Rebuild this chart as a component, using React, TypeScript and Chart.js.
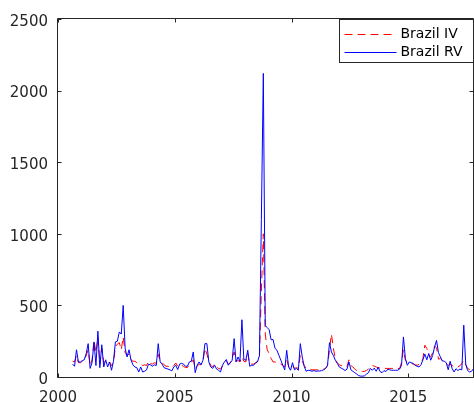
import React, { useEffect, useRef } from 'react';
import { Chart, registerables } from 'chart.js';

Chart.register(...registerables);

// Monthly observations, first month = Aug 2000
const START_YEAR = 2000;
const START_MONTH = 8;

const brazilIV = [
  110, 105, 150, 100, 100,
  110, 115, 150, 190, 80, 120, 256, 170, 280, 90, 200, 100,
  110, 90, 105, 80, 100, 210, 230, 240, 190, 280, 170, 150,
  160, 120, 110, 110, 100, 95, 90, 80, 85, 80, 110, 95,
  90, 100, 95, 160, 110, 100, 85, 75, 75, 70, 65, 80,
  98, 75, 85, 80, 75, 66, 66, 90, 100, 120, 60, 75,
  90, 85, 110, 200, 160, 110, 80, 70, 90, 70, 60, 55,
  75, 95, 110, 90, 100, 130, 175, 110, 115, 105, 140, 110,
  105, 165, 90, 90, 90, 100, 110, 130, 600, 1000, 300, 190,
  164, 130, 105, 105, 100, 95, 90, 80, 70, 120, 75, 60,
  80, 60, 65, 60, 150, 110, 80, 60, 60, 55, 50, 50,
  50, 50, 50, 50, 55, 60, 80, 190, 300, 200, 130, 100,
  85, 80, 75, 70, 75, 120, 80, 70, 55, 45, 40, 38,
  38, 40, 45, 55, 70, 82, 75, 70, 65, 62, 60, 62,
  60, 60, 60, 60, 60, 60, 60, 58, 100, 190, 117, 105,
  105, 95, 90, 85, 82, 88, 94, 128, 222, 200, 152, 140,
  170, 215, 205, 125, 128, 115, 100, 90, 82, 90, 80, 75,
  65, 70, 78, 95, 117, 85, 60, 52, 55, 80,
];

const brazilRV = [
  90, 75, 190, 105, 105,
  115, 120, 165, 233, 60, 100, 245, 80, 320, 65, 225, 70,
  120, 70, 105, 47, 110, 245, 250, 315, 300, 500, 200, 140,
  190, 120, 85, 70, 65, 35, 70, 35, 40, 50, 90, 85,
  75, 85, 80, 233, 105, 90, 65, 60, 55, 50, 43, 70,
  82, 52, 90, 95, 90, 75, 75, 105, 110, 175, 30, 82,
  105, 85, 117, 233, 233, 105, 70, 60, 82, 55, 47, 35,
  82, 105, 122, 82, 98, 117, 268, 105, 140, 110, 400, 122,
  117, 187, 75, 82, 82, 98, 105, 150, 1100, 2120, 360, 345,
  330, 260, 262, 200, 187, 152, 117, 82, 50, 187, 70, 47,
  100, 50, 60, 47, 233, 140, 75, 40, 47, 45, 40, 45,
  40, 42, 42, 45, 50, 60, 82, 240, 175, 150, 117, 95,
  70, 62, 55, 45, 55, 105, 50, 40, 30, 20, 10, 6,
  6, 8, 20, 30, 60, 47, 62, 40, 68, 38, 30, 45,
  38, 55, 50, 47, 47, 47, 47, 55, 80, 280, 128, 82,
  105, 100, 95, 82, 75, 70, 85, 120, 160, 120, 164, 117,
  150, 210, 255, 170, 140, 112, 110, 100, 50, 110, 60, 35,
  58, 45, 55, 50, 362, 90, 45, 35, 40, 58,
];

const yTicks = [0, 500, 1000, 1500, 2000, 2500];
const xTicks = [2000, 2005, 2010, 2015];
const X_MIN = 2000;
const X_MAX = 2017.77;
const Y_MIN = 0;
const Y_MAX = 2500;

const seriesNames = ['Brazil IV', 'Brazil RV'];

const monthTime = (i: number) => START_YEAR + (START_MONTH - 1 + i + 0.5) / 12;

const AXIS_COLOR = '#262626';
const FONT = 'DejaVu Sans';

const boxPlugin = {
  id: 'matlabBox',
  afterDatasetsDraw(chart: any) {
    const { ctx, chartArea: a, scales } = chart;
    const xs = scales.x;
    const ys = scales.y;
    ctx.save();
    ctx.strokeStyle = AXIS_COLOR;
    ctx.lineWidth = 1;
    const L = Math.round(a.left) - 0.5;
    const R = Math.round(a.right) + 0.5;
    const T = Math.round(a.top) - 0.5;
    const B = Math.round(a.bottom) + 0.5;
    ctx.beginPath();
    ctx.rect(L, T, R - L, B - T);
    ctx.stroke();
    const tl = 4;
    ctx.beginPath();
    for (const v of xTicks) {
      const px = Math.round(xs.getPixelForValue(v)) + 0.5;
      ctx.moveTo(px, B);
      ctx.lineTo(px, B - tl);
      ctx.moveTo(px, T);
      ctx.lineTo(px, T + tl);
    }
    for (const v of yTicks) {
      const py = Math.round(ys.getPixelForValue(v)) + 0.5;
      ctx.moveTo(L, py);
      ctx.lineTo(L + tl, py);
      ctx.moveTo(R, py);
      ctx.lineTo(R - tl, py);
    }
    ctx.stroke();

    // legend
    const bw = 134;
    const bh = 43;
    const bx = R - bw;
    const by = T + 1;
    ctx.fillStyle = '#ffffff';
    ctx.fillRect(bx, by, bw, bh);
    ctx.strokeRect(bx, by, bw, bh);
    const rows = [
      { name: seriesNames[0], color: '#ff0000', dash: [8, 5], y: by + 14 },
      { name: seriesNames[1], color: '#0000ff', dash: [], y: by + 32 },
    ];
    ctx.font = `14px "${FONT}"`;
    ctx.textBaseline = 'middle';
    ctx.textAlign = 'left';
    for (const r of rows) {
      ctx.beginPath();
      ctx.setLineDash(r.dash);
      ctx.strokeStyle = r.color;
      ctx.moveTo(bx + 5, Math.round(r.y) + 0.5);
      ctx.lineTo(bx + 57, Math.round(r.y) + 0.5);
      ctx.stroke();
      ctx.setLineDash([]);
      ctx.fillStyle = '#000000';
      ctx.fillText(r.name, bx + 61, r.y + 1);
    }
    ctx.restore();
  },
};

export default function App() {
  const canvasRef = useRef<HTMLCanvasElement | null>(null);

  useEffect(() => {
    const canvas = canvasRef.current;
    if (!canvas) return;
    const ivData = brazilIV.map((v, i) => ({ x: monthTime(i), y: v }));
    const rvData = brazilRV.map((v, i) => ({ x: monthTime(i), y: v }));
    const chart = new Chart(canvas, {
      type: 'line',
      data: {
        datasets: [
          {
            label: seriesNames[0],
            data: ivData,
            borderColor: '#ff0000',
            borderWidth: 1,
            borderDash: [8, 5],
            pointRadius: 0,
            tension: 0,
            fill: false,
            order: 1,
          },
          {
            label: seriesNames[1],
            data: rvData,
            borderColor: '#0000ff',
            borderWidth: 1,
            pointRadius: 0,
            tension: 0,
            fill: false,
            order: 0,
          },
        ],
      },
      options: {
        responsive: false,
        animation: false,
        devicePixelRatio: 1,
        layout: { padding: { top: 18, right: 1, left: 0, bottom: 0 } },
        plugins: {
          legend: { display: false },
          tooltip: { enabled: false },
        },
        scales: {
          x: {
            type: 'linear',
            min: X_MIN,
            max: X_MAX,
            afterBuildTicks: (s: any) => {
              s.ticks = xTicks.map((v) => ({ value: v }));
            },
            afterFit: (s: any) => {
              s.height = 25;
            },
            grid: { display: false, drawTicks: false },
            border: { display: false },
            ticks: {
              color: AXIS_COLOR,
              font: { family: FONT, size: 15 },
              padding: 12,
              maxRotation: 0,
              autoSkip: false,
              callback: (v: any) => String(v),
            },
          },
          y: {
            type: 'linear',
            min: Y_MIN,
            max: Y_MAX,
            afterBuildTicks: (s: any) => {
              s.ticks = yTicks.map((v) => ({ value: v }));
            },
            afterFit: (s: any) => {
              s.width = 58;
            },
            grid: { display: false, drawTicks: false },
            border: { display: false },
            ticks: {
              color: AXIS_COLOR,
              font: { family: FONT, size: 15 },
              padding: 10,
              labelOffset: 3,
              autoSkip: false,
              callback: (v: any) => String(v),
            },
          },
        },
      },
      plugins: [boxPlugin],
    });
    return () => chart.destroy();
  }, []);

  return (
    <div style={{ position: 'fixed', left: 0, top: 0, width: 474, height: 402, background: '#fff' }}>
      <canvas ref={canvasRef} width={474} height={402} style={{ display: 'block', width: 474, height: 402 }} />
    </div>
  );
}
